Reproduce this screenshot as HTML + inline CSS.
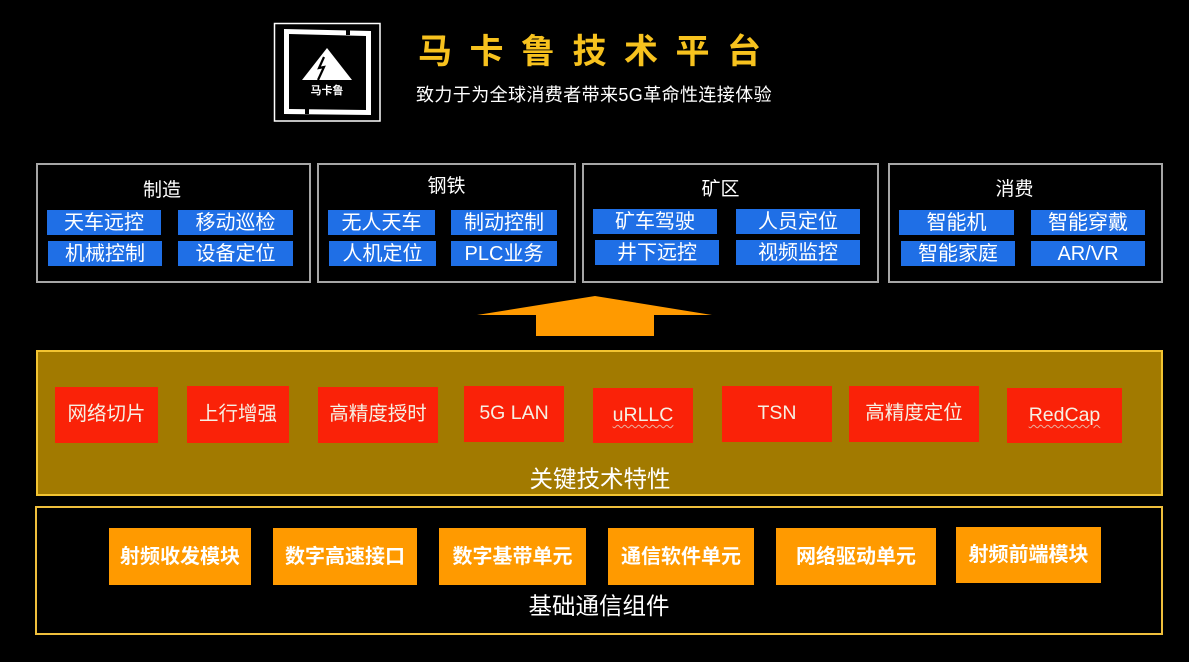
<!DOCTYPE html>
<html>
<head>
<meta charset="utf-8">
<style>
  html,body{margin:0;padding:0;}
  body{width:1189px;height:662px;background:#000;position:relative;overflow:hidden;
       font-family:"Liberation Sans","Noto Sans CJK SC",sans-serif;color:#fff;}
  .abs{position:absolute;box-sizing:border-box;}
  .c{display:flex;align-items:center;justify-content:center;white-space:nowrap;line-height:1;}
  .gbox{border:2px solid #a6a6a6;background:#000;}
  .blue{background:#1f6fe6;color:#fff;font-size:20px;}
  .red{background:#fa2208;color:#f6f0e4;font-size:19.5px;}
  .org{background:#ff9a00;color:#fff;font-size:20px;font-weight:bold;}
  .ttl{font-size:19px;color:#fff;}
  .wavy{text-decoration:underline wavy #e9b0a0;text-decoration-thickness:1px;text-underline-offset:3px;}
</style>
</head>
<body>

<!-- Logo -->
<svg class="abs" style="left:0;top:0" width="1189" height="662" viewBox="0 0 1189 662">
  <rect x="274.5" y="23.5" width="105.5" height="97.5" fill="none" stroke="#fff" stroke-width="1.5"/>
  <polygon points="284,29 371,31 371,115 284,114" fill="#fff"/>
  <polygon points="289,34 366,36 366,110 289,109" fill="#000"/>
  <rect x="346" y="30" width="4" height="5" fill="#000"/>
  <rect x="305" y="109" width="4" height="5" fill="#000"/>
  <polygon points="327,48 352,80 302,80" fill="#fff"/>
  <polyline points="324,57 319,68 324,67 318,80" fill="none" stroke="#000" stroke-width="2.2"/>
  <text x="327" y="94" fill="#fff" font-size="11" font-weight="bold" text-anchor="middle"
        font-family="'Liberation Sans','Noto Sans CJK SC',sans-serif">马卡鲁</text>
  <polygon points="595,296 712,315 654,315 654,336 536,336 536,315 477,315" fill="#ff9a00"/>
</svg>

<!-- Title -->
<div class="abs" style="left:418px;top:35px;font-size:34px;font-weight:bold;color:#f7c21e;letter-spacing:17.5px;line-height:1;white-space:nowrap;">马卡鲁技术平台</div>
<div class="abs" style="left:416px;top:86px;font-size:18px;color:#fff;letter-spacing:0.4px;line-height:1;white-space:nowrap;">致力于为全球消费者带来5G革命性连接体验</div>

<!-- Top boxes -->
<div class="abs gbox" style="left:36px;top:163px;width:275px;height:120px;"></div>
<div class="abs gbox" style="left:317px;top:163px;width:259px;height:120px;"></div>
<div class="abs gbox" style="left:582px;top:163px;width:297px;height:120px;"></div>
<div class="abs gbox" style="left:888px;top:163px;width:275px;height:120px;"></div>

<div class="abs c ttl" style="left:36px;top:179px;width:252px;height:22px;">制造</div>
<div class="abs c ttl" style="left:317px;top:175px;width:259px;height:22px;">钢铁</div>
<div class="abs c ttl" style="left:582px;top:178px;width:277px;height:22px;">矿区</div>
<div class="abs c ttl" style="left:888px;top:178px;width:253px;height:22px;">消费</div>

<div class="abs c blue" style="left:47px;top:210px;width:114px;height:25px;">天车远控</div>
<div class="abs c blue" style="left:178px;top:210px;width:115px;height:25px;">移动巡检</div>
<div class="abs c blue" style="left:48px;top:241px;width:114px;height:25px;">机械控制</div>
<div class="abs c blue" style="left:178px;top:241px;width:115px;height:25px;">设备定位</div>

<div class="abs c blue" style="left:328px;top:210px;width:107px;height:25px;">无人天车</div>
<div class="abs c blue" style="left:451px;top:210px;width:106px;height:25px;">制动控制</div>
<div class="abs c blue" style="left:329px;top:241px;width:107px;height:25px;">人机定位</div>
<div class="abs c blue" style="left:451px;top:241px;width:106px;height:25px;">PLC业务</div>

<div class="abs c blue" style="left:593px;top:209px;width:124px;height:25px;">矿车驾驶</div>
<div class="abs c blue" style="left:736px;top:209px;width:124px;height:25px;">人员定位</div>
<div class="abs c blue" style="left:595px;top:240px;width:124px;height:25px;">井下远控</div>
<div class="abs c blue" style="left:736px;top:240px;width:124px;height:25px;">视频监控</div>

<div class="abs c blue" style="left:899px;top:210px;width:115px;height:25px;">智能机</div>
<div class="abs c blue" style="left:1031px;top:210px;width:114px;height:25px;">智能穿戴</div>
<div class="abs c blue" style="left:901px;top:241px;width:114px;height:25px;">智能家庭</div>
<div class="abs c blue" style="left:1031px;top:241px;width:114px;height:25px;">AR/VR</div>

<!-- Key tech box -->
<div class="abs" style="left:36px;top:350px;width:1127px;height:146px;background:#a27a00;border:2px solid #f3c431;"></div>
<div class="abs c red" style="left:55px;top:387px;width:103px;height:56px;">网络切片</div>
<div class="abs c red" style="left:187px;top:386px;width:102px;height:57px;">上行增强</div>
<div class="abs c red" style="left:318px;top:387px;width:120px;height:56px;">高精度授时</div>
<div class="abs c red" style="left:464px;top:386px;width:100px;height:56px;">5G LAN</div>
<div class="abs c red" style="left:593px;top:388px;width:100px;height:55px;"><span class="wavy">uRLLC</span></div>
<div class="abs c red" style="left:722px;top:386px;width:110px;height:56px;">TSN</div>
<div class="abs c red" style="left:849px;top:386px;width:130px;height:56px;">高精度定位</div>
<div class="abs c red" style="left:1007px;top:388px;width:115px;height:55px;"><span class="wavy">RedCap</span></div>
<div class="abs c" style="left:500px;top:467px;width:200px;height:26px;font-size:23.5px;color:#fff;">关键技术特性</div>

<!-- Base box -->
<div class="abs" style="left:35px;top:506px;width:1128px;height:129px;background:#000;border:2px solid #efbf3c;"></div>
<div class="abs c org" style="left:109px;top:528px;width:142px;height:57px;">射频收发模块</div>
<div class="abs c org" style="left:273px;top:528px;width:144px;height:57px;">数字高速接口</div>
<div class="abs c org" style="left:439px;top:528px;width:147px;height:57px;">数字基带单元</div>
<div class="abs c org" style="left:608px;top:528px;width:146px;height:57px;">通信软件单元</div>
<div class="abs c org" style="left:776px;top:528px;width:160px;height:57px;">网络驱动单元</div>
<div class="abs c org" style="left:956px;top:527px;width:145px;height:56px;">射频前端模块</div>
<div class="abs c" style="left:499px;top:594px;width:200px;height:26px;font-size:23.5px;color:#fff;">基础通信组件</div>

</body>
</html>
